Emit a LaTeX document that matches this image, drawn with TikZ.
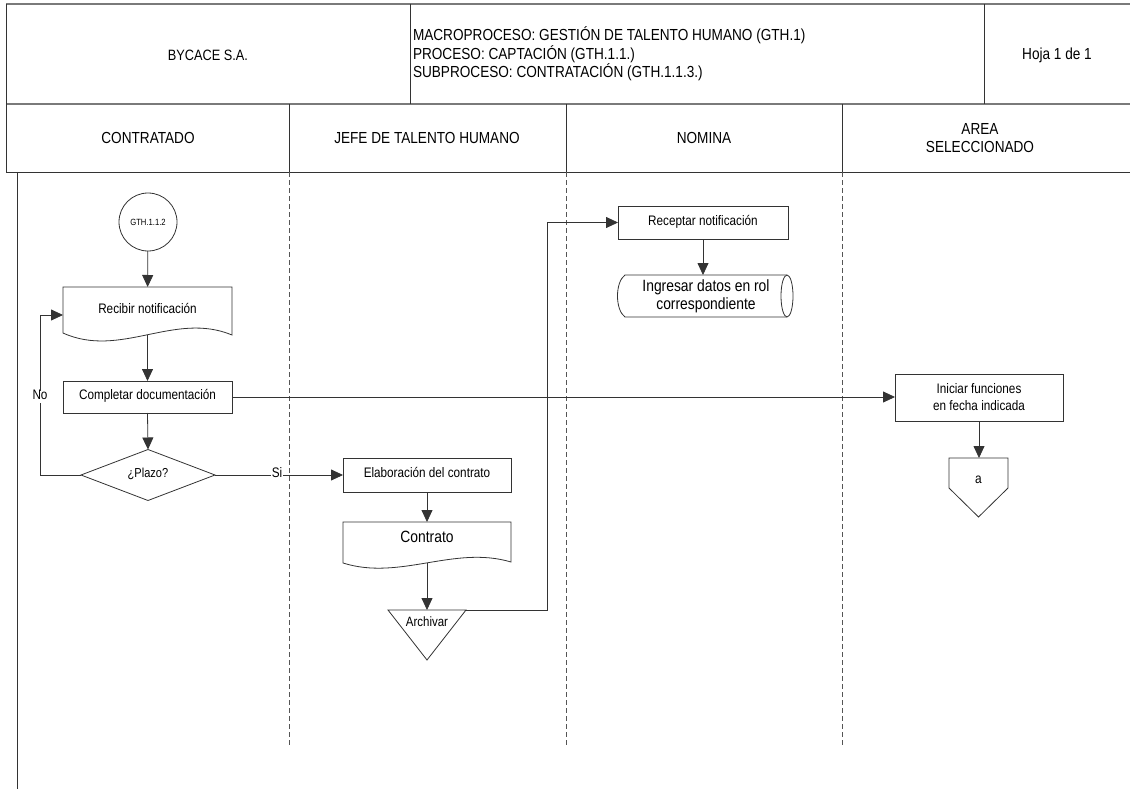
\documentclass[tikz,border=0pt]{standalone}
\usepackage{fontspec}
\setmainfont{Liberation Sans}[FakeStretch=0.85]
\usetikzlibrary{arrows.meta,shapes.geometric,calc}

\definecolor{ink}{HTML}{333333}
\definecolor{rulegray}{HTML}{7A7A7A}
\definecolor{lanegray}{HTML}{555555}

\begin{document}
\begin{tikzpicture}[x=1pt,y=-1pt,
  every node/.style={inner sep=0pt, outer sep=0pt, text=black},
  line/.style={draw=ink, line width=0.8pt},
  flow/.style={line, -{Triangle[length=12pt,width=11pt]}},
  frame/.style={draw=ink, line width=0.9pt},
  framegray/.style={draw=rulegray, line width=1.3pt},
  cell/.style={draw=ink, line width=0.6pt},
  lane/.style={draw=lanegray, line width=0.6pt, dash pattern=on 5pt off 3pt},
  hdr/.style={font=\fontsize{16}{18.3}\selectfont},
  txt/.style={font=\fontsize{13.8}{17}\selectfont},
  big/.style={font=\fontsize{16.3}{18}\selectfont},
  oneline/.style={text height=0.75em, text depth=0.25em},
  procbox/.style={draw=ink, line width=0.8pt, rectangle, txt, align=center},
  shapebox/.style={rectangle, align=center},
  tag/.style={txt, oneline, fill=white, inner sep=1pt},
]
\useasboundingbox (0,0) rectangle (1130,789);

% ---------- title block ----------
\draw[framegray] (6,4) -- (1132,4);
\draw[framegray] (6,104) -- (1132,104);
\draw[frame] (6,172) -- (1132,172);
\draw[frame] (6,4) -- (6,172);
\draw[cell] (410,4) -- (410,104);
\draw[cell] (984,4) -- (984,104);
\draw[cell] (289,104) -- (289,172);
\draw[cell] (566,104) -- (566,172);
\draw[cell] (842,104) -- (842,172);

\node[font=\fontsize{15}{17}\selectfont] (company) at (208,55) {BYCACE S.A.};
\node[hdr, align=left, anchor=west] (macro) at (413,54)
  {MACROPROCESO: GESTIÓN DE TALENTO HUMANO (GTH.1)\\
   PROCESO: CAPTACIÓN (GTH.1.1.)\\
   SUBPROCESO: CONTRATACIÓN (GTH.1.1.3.)};
\node[hdr] (sheet) at (1057,55) {Hoja 1 de 1};

\node[hdr] (laneA) at (148,138) {CONTRATADO};
\node[hdr] (laneB) at (427,138) {JEFE DE TALENTO HUMANO};
\node[hdr] (laneC) at (704,138) {NOMINA};
\node[hdr, align=center] (laneD) at (980,138) {AREA\\SELECCIONADO};

% ---------- swimlane separators ----------
\draw[frame] (17,172) -- (17,792);
\draw[lane] (289,172) -- (289,745);
\draw[lane] (566,172) -- (566,745);
\draw[lane] (842,172) -- (842,745);

% ---------- CONTRATADO ----------
\node[circle, draw=ink, line width=0.8pt, minimum size=58pt,
      font=\fontsize{9}{10}\selectfont] (start) at (148,222) {GTH.1.1.2};

\node[shapebox, txt, text height=0.75em, text depth=2pt,
      minimum width=169pt, minimum height=48pt] (recibir) at (147.5,311) {Recibir notificación};
\draw[line] (recibir.north west) -- (recibir.north east) -- (recibir.south east)
  .. controls ($(recibir.south)+(27,-24)$) and ($(recibir.south)+(-27,24)$) ..
  ($(recibir.south west)+(0,-2)$) -- cycle;

\node[procbox, oneline, minimum width=169pt, minimum height=32pt] (completar) at (147.5,397) {Completar documentación};

\node[diamond, draw=ink, line width=0.8pt, shape aspect=2.6, minimum width=134pt,
      minimum height=51pt, oneline, font=\fontsize{13}{15}\selectfont] (plazo) at (148,475) {¿Plazo?};

% ---------- JEFE DE TALENTO HUMANO ----------
\node[procbox, oneline, minimum width=168pt, minimum height=34pt] (elab) at (427,475) {Elaboración del contrato};

\node[shapebox, big, text height=0.75em, text depth=7pt,
      minimum width=168pt, minimum height=41pt] (contrato) at (427,542.5) {Contrato};
\draw[line] (contrato.north west) -- (contrato.north east) -- ($(contrato.south east)+(0,-1)$)
  .. controls ($(contrato.south)+(27,-18)$) and ($(contrato.south)+(-27,18)$) ..
  (contrato.south west) -- cycle;

\node[shapebox, font=\fontsize{13.5}{15}\selectfont, text height=0.75em, text depth=24pt,
      minimum width=78pt, minimum height=50pt] (archivar) at (427,635) {Archivar};
\draw[line] (archivar.north west) -- (archivar.north east) -- (archivar.south) -- cycle;

% ---------- NOMINA ----------
\node[procbox, oneline, minimum width=170pt, minimum height=33pt] (receptar) at (703,222.5) {Receptar notificación};

\node[shapebox, big, minimum width=162pt, minimum height=42pt] (ingresar) at (706,296)
  {Ingresar datos en rol\\correspondiente};
\draw[line] (ingresar.north east) -- (ingresar.north west)
  .. controls ($(ingresar.north west)+(-10,7)$) and ($(ingresar.south west)+(-10,-7)$) ..
  (ingresar.south west) -- (ingresar.south east);
\draw[line] (ingresar.east) ellipse [x radius=6pt, y radius=21pt];

% ---------- AREA SELECCIONADO ----------
\node[procbox, minimum width=168pt, minimum height=47pt] (iniciar) at (979,397.5)
  {Iniciar funciones\\en fecha indicada};

\node[shapebox, font=\fontsize{14}{16}\selectfont, text height=0.75em, text depth=15.5pt,
      minimum width=59pt, minimum height=59pt] (pageA) at (978.5,487.5) {a};
\draw[line] (pageA.north west) -- (pageA.north east) -- ($(pageA.north east)+(0,30)$)
  -- (pageA.south) -- ($(pageA.north west)+(0,30)$) -- cycle;

% ---------- connectors ----------
\draw[flow] (start) -- (recibir);
\draw[flow] (recibir.south) -- (completar.north);
\draw[flow] (completar.south) -- (plazo.north);
\draw[flow] (plazo.west) -- ++(-41,0) |- ([yshift=-4pt]recibir.west);
\node[tag] (lblno) at (40,397) {No};
\draw[flow] (plazo.east) -- node[tag, pos=0.485] (lblsi) {Si} (elab.west);
\draw[flow] (completar.east) -- (completar.east -| iniciar.west);
\draw[flow] (elab.south) -- (contrato.north);
\draw[flow] (contrato.south) -- (archivar.north);
\draw[flow] (archivar.north east) -- ++(81,0) |- (receptar.west);
\draw[flow] (receptar.south) -- (receptar.south |- ingresar.north);
\draw[flow] (iniciar.south) -- (iniciar.south |- pageA.north);
\end{tikzpicture}
\end{document}
